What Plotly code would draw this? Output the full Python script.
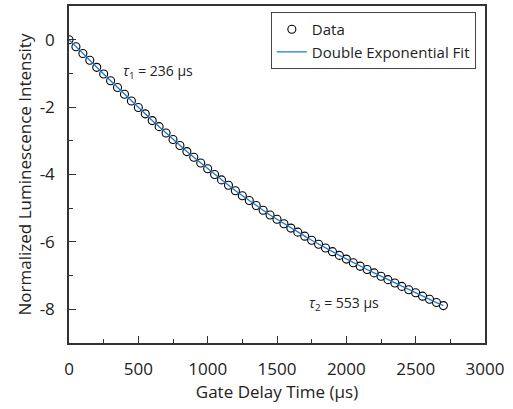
import plotly.graph_objects as go

# Data
delay_us = [0, 50, 100, 150, 200, 250, 300, 350, 400, 450, 500, 550, 600, 650, 700,
            750, 800, 850, 900, 950, 1000, 1050, 1100, 1150, 1200, 1250, 1300, 1350,
            1400, 1450, 1500, 1550, 1600, 1650, 1700, 1750, 1800, 1850, 1900, 1950,
            2000, 2050, 2100, 2150, 2200, 2250, 2300, 2350, 2400, 2450, 2500, 2550,
            2600, 2650, 2700]
intensity = [0.00, -0.21, -0.41, -0.61, -0.82, -1.02, -1.22, -1.42, -1.62, -1.82,
             -2.01, -2.20, -2.40, -2.58, -2.77, -2.96, -3.14, -3.32, -3.49, -3.66,
             -3.83, -4.00, -4.16, -4.32, -4.48, -4.63, -4.77, -4.92, -5.06, -5.20,
             -5.33, -5.46, -5.59, -5.71, -5.83, -5.95, -6.07, -6.18, -6.29, -6.40,
             -6.51, -6.62, -6.72, -6.82, -6.92, -7.02, -7.12, -7.22, -7.32, -7.42,
             -7.51, -7.61, -7.70, -7.80, -7.89]
fit_values = [0.00, -0.21, -0.41, -0.61, -0.82, -1.02, -1.22, -1.42, -1.62, -1.82,
              -2.01, -2.20, -2.40, -2.58, -2.77, -2.96, -3.14, -3.32, -3.49, -3.66,
              -3.83, -4.00, -4.16, -4.32, -4.48, -4.63, -4.77, -4.92, -5.06, -5.20,
              -5.33, -5.46, -5.59, -5.71, -5.83, -5.95, -6.07, -6.18, -6.29, -6.40,
              -6.51, -6.62, -6.72, -6.82, -6.92, -7.02, -7.12, -7.22, -7.32, -7.42,
              -7.51, -7.61, -7.70, -7.80, -7.89]
x_ticks = [0, 500, 1000, 1500, 2000, 2500, 3000]
y_ticks = [0, -2, -4, -6, -8]

FONT = "Open Sans"
AXIS_COLOR = "#333333"

fig = go.Figure()
fig.add_trace(go.Scatter(
    x=delay_us, y=intensity, mode="markers", name="Data",
    marker=dict(symbol="circle-open", size=8, color="black", line=dict(width=1.1, color="black")),
))
fig.add_trace(go.Scatter(
    x=delay_us, y=fit_values, mode="lines", name="Double Exponential Fit",
    line=dict(color="#1f78d1", width=1.3),
))

fig.add_annotation(x=642, y=-0.95, text="<i>τ</i><sub>1</sub> = 236 µs", showarrow=False,
                   font=dict(family=FONT, size=14, color="#222"))
fig.add_annotation(x=1980, y=-7.83, text="<i>τ</i><sub>2</sub> = 553 µs", showarrow=False,
                   font=dict(family=FONT, size=14, color="#222"))

fig.update_layout(
    width=513, height=409,
    margin=dict(l=69, r=28, t=6, b=66),
    paper_bgcolor="white", plot_bgcolor="white",
    font=dict(family=FONT, size=17, color="#222"),
    showlegend=True,
    legend=dict(
        x=0.978, y=0.982, xanchor="right", yanchor="top",
        bgcolor="white", bordercolor="#444", borderwidth=1,
        font=dict(family=FONT, size=15, color="#222"),
        tracegroupgap=0, itemwidth=30,
    ),
    xaxis=dict(
        range=[0, 3000], tickvals=x_ticks, ticktext=[str(v) for v in x_ticks],
        showgrid=False, zeroline=False, automargin=False,
        showline=True, linecolor=AXIS_COLOR, linewidth=1.5, mirror=True,
        ticks="inside", ticklen=7, tickwidth=1.3, tickcolor=AXIS_COLOR,
        minor=dict(dtick=250, tick0=0, ticks="inside", ticklen=4, tickwidth=1.2, tickcolor=AXIS_COLOR),
        title=dict(text="Gate Delay Time (µs)", font=dict(size=17), standoff=6),
        tickfont=dict(size=17), ticklabelstandoff=10,
    ),
    yaxis=dict(
        range=[-9, 1], tickvals=y_ticks, ticktext=[str(v) for v in y_ticks],
        showgrid=False, zeroline=False, automargin=False,
        showline=True, linecolor=AXIS_COLOR, linewidth=1.5, mirror=True,
        ticks="inside", ticklen=7, tickwidth=1.3, tickcolor=AXIS_COLOR,
        minor=dict(dtick=1, tick0=0, ticks="inside", ticklen=4, tickwidth=1.2, tickcolor=AXIS_COLOR),
        title=dict(text="Normalized Luminescence Intensity", font=dict(size=17), standoff=4),
        tickfont=dict(size=17), ticklabelstandoff=9,
    ),
)

fig.write_html("out.html", config={"displayModeBar": False},
               post_script="document.body.style.margin='0px';")
